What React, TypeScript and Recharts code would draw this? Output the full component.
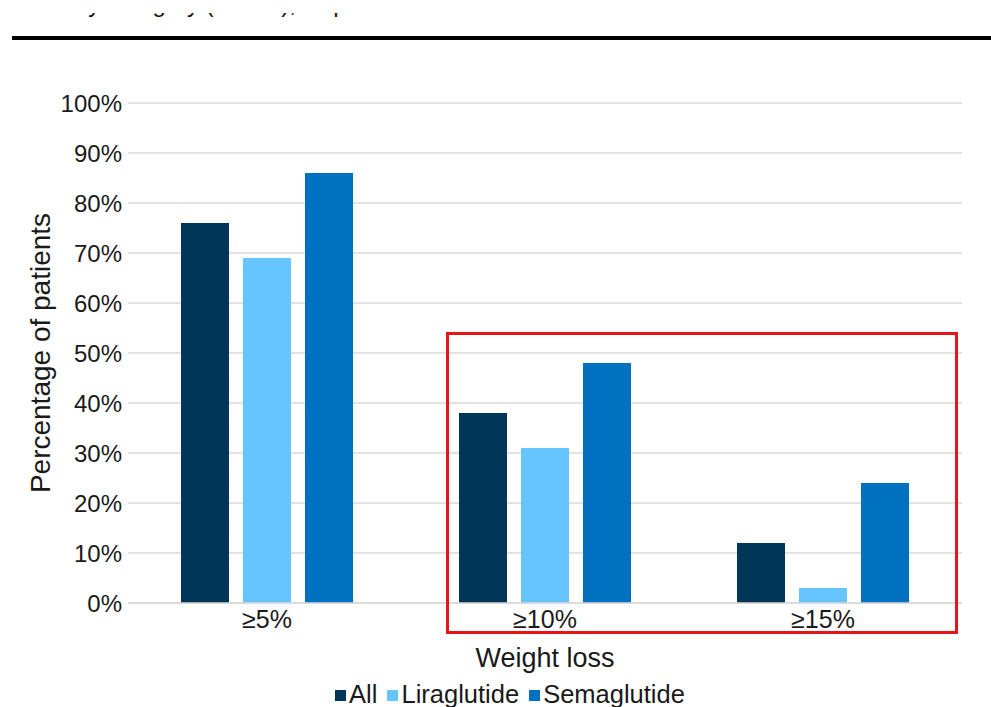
import { BarChart, Bar, XAxis, YAxis, CartesianGrid, Legend, Label } from "recharts";

// weight-loss thresholds on the x axis
const categories = ["≥5%", "≥10%", "≥15%"];

// share of patients reaching each threshold (%)
const allPatients = [76, 38, 12];
const liraglutide = [69, 31, 3];
const semaglutide = [86, 48, 24];

const yTicks = [0, 10, 20, 30, 40, 50, 60, 70, 80, 90, 100];

const series = [
  { key: "all", name: "All", color: "#003658" },
  { key: "lira", name: "Liraglutide", color: "#66C5FF" },
  { key: "sema", name: "Semaglutide", color: "#0070C0" },
];

const data = categories.map((c, i) => ({
  category: c,
  all: allPatients[i],
  lira: liraglutide[i],
  sema: semaglutide[i],
}));

const FONT = '"Liberation Sans", Arial, sans-serif';
const TEXT = "#1a1a1a";

function LegendRow() {
  return (
    <div
      style={{
        display: "flex",
        justifyContent: "center",
        alignItems: "center",
        height: 30,
        paddingLeft: 68,
        paddingTop: 3,
        boxSizing: "border-box",
        fontSize: 25.5,
        lineHeight: "28px",
        color: TEXT,
        fontFamily: FONT,
      }}
    >
      {series.map((s) => (
        <span key={s.key} style={{ display: "flex", alignItems: "center", marginRight: 10 }}>
          <span
            style={{
              display: "inline-block",
              width: 11,
              height: 11,
              background: s.color,
              marginRight: 3,
              marginTop: 3,
            }}
          />
          {s.name}
        </span>
      ))}
    </div>
  );
}

export default function App() {
  return (
    <div
      style={{
        position: "absolute",
        left: 0,
        top: 0,
        width: 991,
        height: 707,
        overflow: "hidden",
        background: "#fff",
        fontFamily: FONT,
      }}
    >
      {/* heading, only its lowest strip is left on the page */}
      <div
        style={{
          position: "absolute",
          left: 0,
          top: 13,
          width: 991,
          height: 11,
          overflow: "hidden",
        }}
      >
        <div
          style={{
            position: "absolute",
            left: 19,
            top: -23,
            fontSize: 24,
            lineHeight: "28px",
            whiteSpace: "nowrap",
            color: "#111",
          }}
        >
          Obesity category (n=165), all patients at 6 months
        </div>
      </div>
      <div
        style={{
          position: "absolute",
          left: 12,
          top: 36,
          width: 979,
          height: 4,
          background: "#000",
        }}
      />

      <BarChart
        width={991}
        height={707}
        data={data}
        margin={{ top: 103, right: 29, bottom: 0, left: 0 }}
        barGap={14}
        barSize={48}
      >
        <CartesianGrid vertical={false} stroke="#d9d9d9" strokeWidth={1.5} />
        <XAxis
          dataKey="category"
          height={74}
          tickLine={false}
          axisLine={{ stroke: "#d9d9d9", strokeWidth: 1.5 }}
          tick={{ fontSize: 25, fill: TEXT }}
          tickSize={0}
          tickMargin={7}
        >
          <Label
            value="Weight loss"
            position="insideBottom"
            offset={10}
            style={{ fontSize: 27, fill: TEXT }}
          />
        </XAxis>
        <YAxis
          width={128}
          domain={[0, 100]}
          ticks={yTicks}
          tickFormatter={(v) => `${v}%`}
          tickLine={false}
          axisLine={false}
          tickSize={0}
          tickMargin={6}
          tick={{ fontSize: 24, fill: TEXT }}
        >
          <Label
            value="Percentage of patients"
            angle={-90}
            position="insideLeft"
            offset={40}
            style={{ fontSize: 28, fill: TEXT, textAnchor: "middle" }}
          />
        </YAxis>
        <Legend verticalAlign="bottom" content={<LegendRow />} wrapperStyle={{ height: 30 }} />
        {series.map((s) => (
          <Bar
            key={s.key}
            dataKey={s.key}
            name={s.name}
            fill={s.color}
            isAnimationActive={false}
          />
        ))}
      </BarChart>

      {/* highlight box around the two higher thresholds */}
      <div
        style={{
          position: "absolute",
          left: 446,
          top: 332,
          width: 506,
          height: 296,
          border: "3px solid #e8141c",
        }}
      />
    </div>
  );
}
